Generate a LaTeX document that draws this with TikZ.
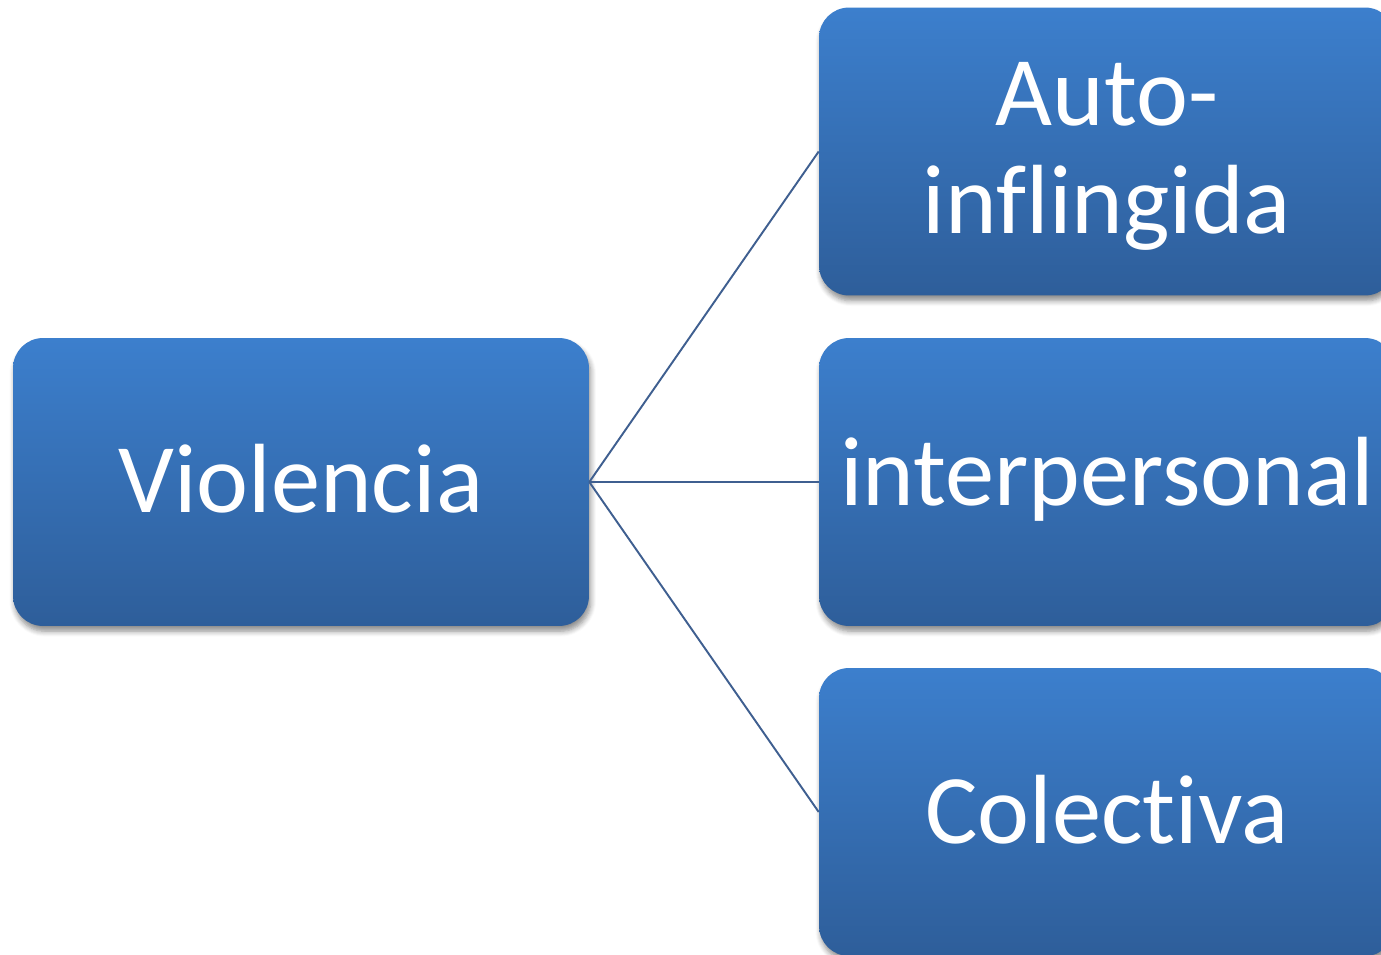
\documentclass[tikz,border=0pt]{standalone}
\usepackage{fontspec}
\setmainfont[Ligatures=NoCommon]{Carlito}
\usetikzlibrary{shadows.blur}
\definecolor{boxtop}{HTML}{3C7FCD}
\definecolor{boxbot}{HTML}{2E5E9A}
\definecolor{linkc}{HTML}{3F5F90}
\tikzset{
  box/.style={rounded corners=0.6cm, minimum width=11.52cm, minimum height=5.76cm,
    top color=boxtop, bottom color=boxbot, inner sep=0pt,
    blur shadow={shadow xshift=1pt, shadow yshift=-3pt, shadow blur steps=6, shadow opacity=45, shadow blur radius=3pt}},
  lbl/.style={text=white, align=center, inner sep=0pt, font=\fontsize{56}{61.5}\selectfont},
  link/.style={draw=linkc, line width=1.1pt}
}
\begin{document}
\begin{tikzpicture}[x=0.02cm,y=-0.02cm]
\useasboundingbox (0,0) rectangle (1381,955);
\clip (0,0) rectangle (1381,955);
\node[box] (v) at (301,482) {};
\node[box] (a) at (1107,151.5) {};
\node[box] (i) at (1107,482) {};
\node[box] (c) at (1107,812) {};
\node[lbl] (vt) at ([yshift=0.06cm]v.center) {Violencia};
\node[lbl] (at) at ([yshift=-0.1cm]a.center) {Auto-\\inflingida};
\node[lbl] (it) at ([yshift=0.06cm]i.center) {interpersonal};
\node[lbl] (ct) at ([yshift=0.04cm]c.center) {Colectiva};
\draw[link] (v.east) -- (a.west);
\draw[link] (v.east) -- (i.west);
\draw[link] (v.east) -- (c.west);
\end{tikzpicture}
\end{document}
